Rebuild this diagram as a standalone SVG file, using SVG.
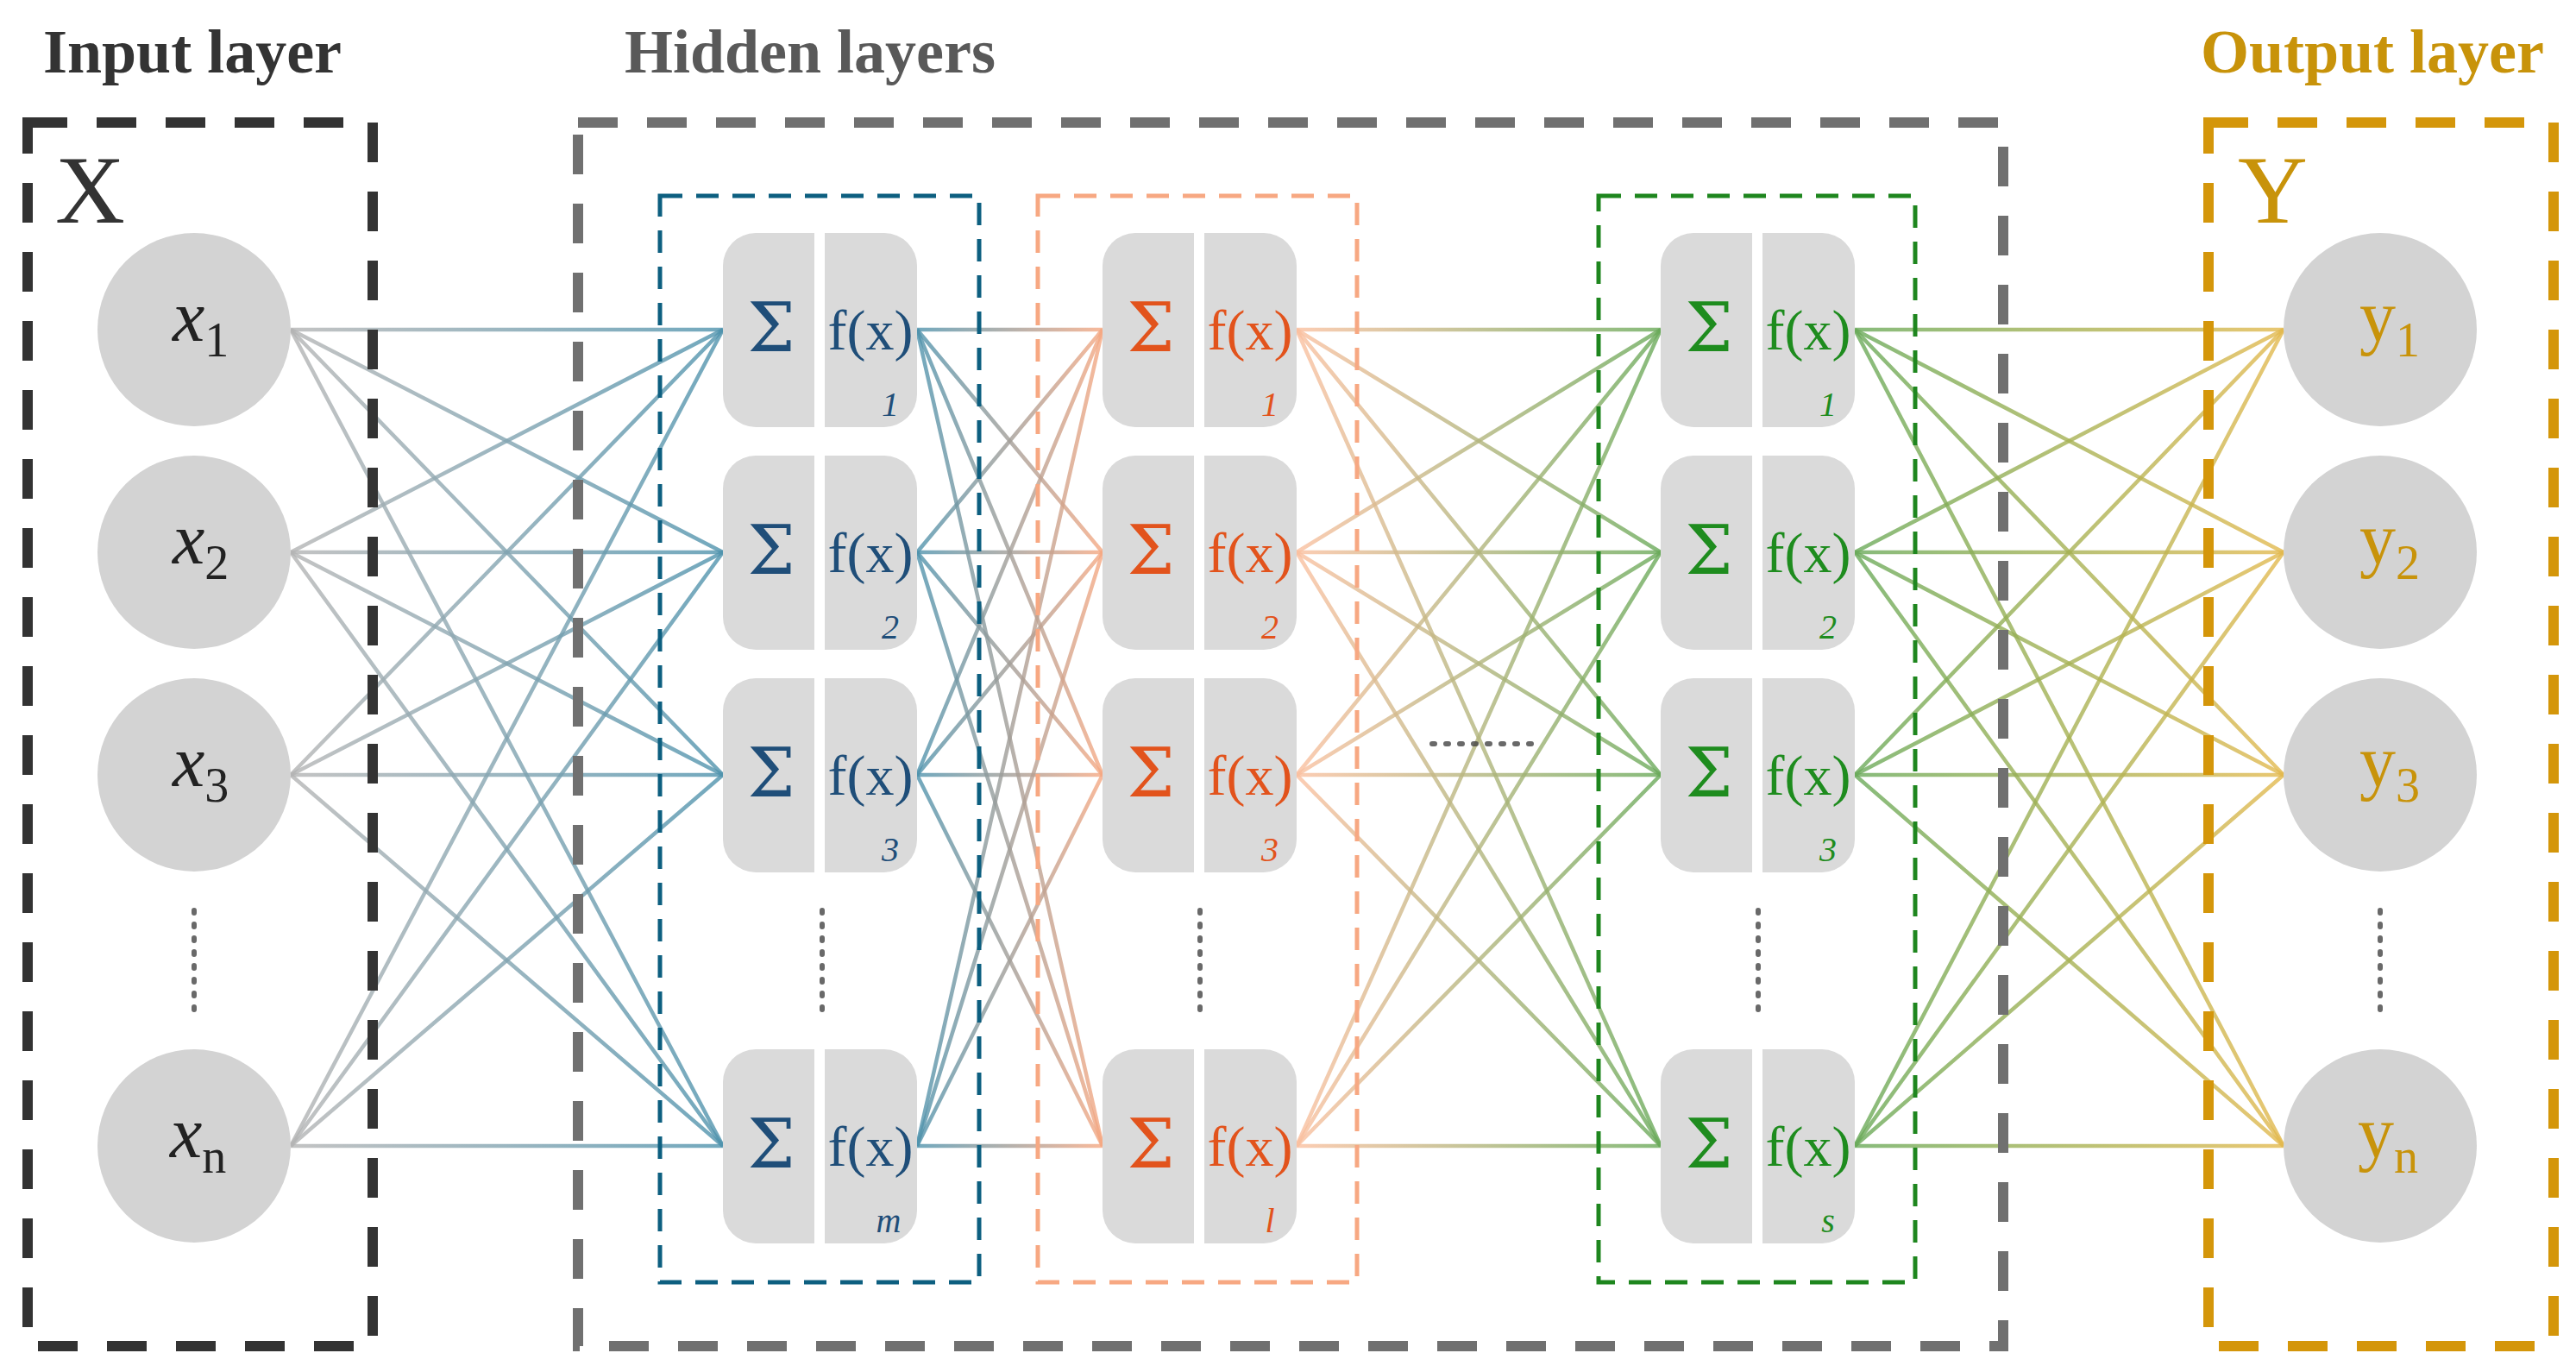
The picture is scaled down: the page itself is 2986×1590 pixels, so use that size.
<svg xmlns="http://www.w3.org/2000/svg" width="2986" height="1590" viewBox="0 0 2986 1590">
<style>
.title{font-family:"Liberation Serif",serif;font-weight:bold;font-size:72px}
.big{font-family:"Liberation Serif",serif;font-size:112px}
.circ{fill:#d3d3d3}
.box{fill:#dadada}
.sig{font-family:"DejaVu Serif",serif;font-size:78px;text-anchor:middle}
.fx{font-family:"Liberation Serif",serif;font-size:66px;text-anchor:middle}
.num{font-family:"Liberation Serif",serif;font-style:italic;font-size:40px;text-anchor:middle}
.xl{font-family:"Liberation Serif",serif;font-style:italic;font-size:84px}
.yl{font-family:"Liberation Serif",serif;font-size:84px;fill:#c8930a}
.dots{stroke-width:6;stroke-dasharray:3 13;stroke-linecap:round;fill:none}
line{stroke-width:4.5;stroke-opacity:0.8}
</style>
<defs>
<linearGradient id="gA" gradientUnits="userSpaceOnUse" x1="337" y1="0" x2="838" y2="0"><stop offset="0" stop-color="#b4b4b4"/><stop offset="1" stop-color="#4f93ad"/></linearGradient>
<linearGradient id="gB" gradientUnits="userSpaceOnUse" x1="1063" y1="0" x2="1278" y2="0"><stop offset="0" stop-color="#4f93ad"/><stop offset="1" stop-color="#f6a882"/></linearGradient>
<linearGradient id="gC" gradientUnits="userSpaceOnUse" x1="1503" y1="0" x2="1925" y2="0"><stop offset="0" stop-color="#fbc0a0"/><stop offset="1" stop-color="#6aaa5a"/></linearGradient>
<linearGradient id="gD" gradientUnits="userSpaceOnUse" x1="2150" y1="0" x2="2647" y2="0"><stop offset="0" stop-color="#6aaa5a"/><stop offset="1" stop-color="#e3b94e"/></linearGradient>
</defs>
<rect width="2986" height="1590" fill="#fff"/>

<g id="connectors">
<g stroke="url(#gA)">
<line x1="337" y1="382" x2="838" y2="382"/><line x1="337" y1="382" x2="838" y2="640"/><line x1="337" y1="382" x2="838" y2="898"/><line x1="337" y1="382" x2="838" y2="1328"/>
<line x1="337" y1="640" x2="838" y2="382"/><line x1="337" y1="640" x2="838" y2="640"/><line x1="337" y1="640" x2="838" y2="898"/><line x1="337" y1="640" x2="838" y2="1328"/>
<line x1="337" y1="898" x2="838" y2="382"/><line x1="337" y1="898" x2="838" y2="640"/><line x1="337" y1="898" x2="838" y2="898"/><line x1="337" y1="898" x2="838" y2="1328"/>
<line x1="337" y1="1328" x2="838" y2="382"/><line x1="337" y1="1328" x2="838" y2="640"/><line x1="337" y1="1328" x2="838" y2="898"/><line x1="337" y1="1328" x2="838" y2="1328"/>
</g>
<g stroke="url(#gB)">
<line x1="1063" y1="382" x2="1278" y2="382"/><line x1="1063" y1="382" x2="1278" y2="640"/><line x1="1063" y1="382" x2="1278" y2="898"/><line x1="1063" y1="382" x2="1278" y2="1328"/>
<line x1="1063" y1="640" x2="1278" y2="382"/><line x1="1063" y1="640" x2="1278" y2="640"/><line x1="1063" y1="640" x2="1278" y2="898"/><line x1="1063" y1="640" x2="1278" y2="1328"/>
<line x1="1063" y1="898" x2="1278" y2="382"/><line x1="1063" y1="898" x2="1278" y2="640"/><line x1="1063" y1="898" x2="1278" y2="898"/><line x1="1063" y1="898" x2="1278" y2="1328"/>
<line x1="1063" y1="1328" x2="1278" y2="382"/><line x1="1063" y1="1328" x2="1278" y2="640"/><line x1="1063" y1="1328" x2="1278" y2="898"/><line x1="1063" y1="1328" x2="1278" y2="1328"/>
</g>
<g stroke="url(#gC)">
<line x1="1503" y1="382" x2="1925" y2="382"/><line x1="1503" y1="382" x2="1925" y2="640"/><line x1="1503" y1="382" x2="1925" y2="898"/><line x1="1503" y1="382" x2="1925" y2="1328"/>
<line x1="1503" y1="640" x2="1925" y2="382"/><line x1="1503" y1="640" x2="1925" y2="640"/><line x1="1503" y1="640" x2="1925" y2="898"/><line x1="1503" y1="640" x2="1925" y2="1328"/>
<line x1="1503" y1="898" x2="1925" y2="382"/><line x1="1503" y1="898" x2="1925" y2="640"/><line x1="1503" y1="898" x2="1925" y2="898"/><line x1="1503" y1="898" x2="1925" y2="1328"/>
<line x1="1503" y1="1328" x2="1925" y2="382"/><line x1="1503" y1="1328" x2="1925" y2="640"/><line x1="1503" y1="1328" x2="1925" y2="898"/><line x1="1503" y1="1328" x2="1925" y2="1328"/>
</g>
<g stroke="url(#gD)">
<line x1="2150" y1="382" x2="2647" y2="382"/><line x1="2150" y1="382" x2="2647" y2="640"/><line x1="2150" y1="382" x2="2647" y2="898"/><line x1="2150" y1="382" x2="2647" y2="1328"/>
<line x1="2150" y1="640" x2="2647" y2="382"/><line x1="2150" y1="640" x2="2647" y2="640"/><line x1="2150" y1="640" x2="2647" y2="898"/><line x1="2150" y1="640" x2="2647" y2="1328"/>
<line x1="2150" y1="898" x2="2647" y2="382"/><line x1="2150" y1="898" x2="2647" y2="640"/><line x1="2150" y1="898" x2="2647" y2="898"/><line x1="2150" y1="898" x2="2647" y2="1328"/>
<line x1="2150" y1="1328" x2="2647" y2="382"/><line x1="2150" y1="1328" x2="2647" y2="640"/><line x1="2150" y1="1328" x2="2647" y2="898"/><line x1="2150" y1="1328" x2="2647" y2="1328"/>
</g>
</g>

<g id="frames" fill="none">
<rect x="32" y="142" width="400" height="1418" stroke="#333" stroke-width="12" stroke-dasharray="46 34"/>
<rect x="670" y="142" width="1652" height="1418" stroke="#707070" stroke-width="12" stroke-dasharray="46 34"/>
<rect x="2560" y="142" width="400" height="1418" stroke="#d4960a" stroke-width="12" stroke-dasharray="46 34"/>
<rect x="765" y="227" width="370" height="1259" stroke="#0d5f80" stroke-width="5" stroke-dasharray="26 16"/>
<rect x="1203" y="227" width="370" height="1259" stroke="#f7a882" stroke-width="5" stroke-dasharray="26 16"/>
<rect x="1853" y="227" width="367" height="1259" stroke="#1e861e" stroke-width="5" stroke-dasharray="26 16"/>
</g>

<g id="titles">
<text class="title" x="50" y="84" fill="#333">Input layer</text>
<text class="title" x="724" y="84" fill="#595959">Hidden layers</text>
<text class="title" x="2551" y="84" fill="#c8930a">Output layer</text>
<text class="big" x="64" y="258" fill="#333">X</text>
<text class="big" x="2594" y="258" fill="#c8930a">Y</text>
</g>

<g id="input-nodes">
<g id="x1"><circle class="circ" cx="225" cy="382" r="112"/><text class="xl" x="200" y="395" fill="#222">x<tspan font-style="normal" font-size="56" dy="18">1</tspan></text></g>
<g id="x2"><circle class="circ" cx="225" cy="640" r="112"/><text class="xl" x="200" y="653" fill="#222">x<tspan font-style="normal" font-size="56" dy="18">2</tspan></text></g>
<g id="x3"><circle class="circ" cx="225" cy="898" r="112"/><text class="xl" x="200" y="911" fill="#222">x<tspan font-style="normal" font-size="56" dy="18">3</tspan></text></g>
<g id="xn"><circle class="circ" cx="225" cy="1328" r="112"/><text class="xl" x="197" y="1341" fill="#222">x<tspan font-style="normal" font-size="56" dy="18">n</tspan></text></g>
<line class="dots" x1="225" y1="1055" x2="225" y2="1175" stroke="#444"/>
</g>

<g id="h1" fill="#1f4e79">
<g id="h1-1"><rect class="box" x="838" y="270" width="225" height="225" rx="38"/><rect x="944" y="268" width="12" height="229" fill="#fff"/><text class="sig" x="894" y="407">Σ</text><text class="fx" x="1009" y="405">f(x)</text><text class="num" x="1032" y="482">1</text></g>
<g id="h1-2"><rect class="box" x="838" y="528" width="225" height="225" rx="38"/><rect x="944" y="526" width="12" height="229" fill="#fff"/><text class="sig" x="894" y="665">Σ</text><text class="fx" x="1009" y="663">f(x)</text><text class="num" x="1032" y="740">2</text></g>
<g id="h1-3"><rect class="box" x="838" y="786" width="225" height="225" rx="38"/><rect x="944" y="784" width="12" height="229" fill="#fff"/><text class="sig" x="894" y="923">Σ</text><text class="fx" x="1009" y="921">f(x)</text><text class="num" x="1032" y="998">3</text></g>
<g id="h1-m"><rect class="box" x="838" y="1216" width="225" height="225" rx="38"/><rect x="944" y="1214" width="12" height="229" fill="#fff"/><text class="sig" x="894" y="1353">Σ</text><text class="fx" x="1009" y="1351">f(x)</text><text class="num" x="1030" y="1428">m</text></g>
<line class="dots" x1="953" y1="1055" x2="953" y2="1175" stroke="#444"/>
</g>

<g id="h2" fill="#e2531c">
<g id="h2-1"><rect class="box" x="1278" y="270" width="225" height="225" rx="38"/><rect x="1384" y="268" width="12" height="229" fill="#fff"/><text class="sig" x="1334" y="407">Σ</text><text class="fx" x="1449" y="405">f(x)</text><text class="num" x="1472" y="482">1</text></g>
<g id="h2-2"><rect class="box" x="1278" y="528" width="225" height="225" rx="38"/><rect x="1384" y="526" width="12" height="229" fill="#fff"/><text class="sig" x="1334" y="665">Σ</text><text class="fx" x="1449" y="663">f(x)</text><text class="num" x="1472" y="740">2</text></g>
<g id="h2-3"><rect class="box" x="1278" y="786" width="225" height="225" rx="38"/><rect x="1384" y="784" width="12" height="229" fill="#fff"/><text class="sig" x="1334" y="923">Σ</text><text class="fx" x="1449" y="921">f(x)</text><text class="num" x="1472" y="998">3</text></g>
<g id="h2-l"><rect class="box" x="1278" y="1216" width="225" height="225" rx="38"/><rect x="1384" y="1214" width="12" height="229" fill="#fff"/><text class="sig" x="1334" y="1353">Σ</text><text class="fx" x="1449" y="1351">f(x)</text><text class="num" x="1472" y="1428">l</text></g>
<line class="dots" x1="1391" y1="1055" x2="1391" y2="1175" stroke="#444"/>
</g>

<line class="dots" x1="1660" y1="862" x2="1780" y2="862" stroke="#444"/>

<g id="h3" fill="#1e8c1e">
<g id="h3-1"><rect class="box" x="1925" y="270" width="225" height="225" rx="38"/><rect x="2031" y="268" width="12" height="229" fill="#fff"/><text class="sig" x="1981" y="407">Σ</text><text class="fx" x="2096" y="405">f(x)</text><text class="num" x="2119" y="482">1</text></g>
<g id="h3-2"><rect class="box" x="1925" y="528" width="225" height="225" rx="38"/><rect x="2031" y="526" width="12" height="229" fill="#fff"/><text class="sig" x="1981" y="665">Σ</text><text class="fx" x="2096" y="663">f(x)</text><text class="num" x="2119" y="740">2</text></g>
<g id="h3-3"><rect class="box" x="1925" y="786" width="225" height="225" rx="38"/><rect x="2031" y="784" width="12" height="229" fill="#fff"/><text class="sig" x="1981" y="923">Σ</text><text class="fx" x="2096" y="921">f(x)</text><text class="num" x="2119" y="998">3</text></g>
<g id="h3-s"><rect class="box" x="1925" y="1216" width="225" height="225" rx="38"/><rect x="2031" y="1214" width="12" height="229" fill="#fff"/><text class="sig" x="1981" y="1353">Σ</text><text class="fx" x="2096" y="1351">f(x)</text><text class="num" x="2119" y="1428">s</text></g>
<line class="dots" x1="2038" y1="1055" x2="2038" y2="1175" stroke="#444"/>
</g>

<g id="output-nodes">
<g id="y1"><circle class="circ" cx="2759" cy="382" r="112"/><text class="yl" x="2735" y="395">y<tspan font-size="56" dy="18">1</tspan></text></g>
<g id="y2"><circle class="circ" cx="2759" cy="640" r="112"/><text class="yl" x="2735" y="653">y<tspan font-size="56" dy="18">2</tspan></text></g>
<g id="y3"><circle class="circ" cx="2759" cy="898" r="112"/><text class="yl" x="2735" y="911">y<tspan font-size="56" dy="18">3</tspan></text></g>
<g id="yn"><circle class="circ" cx="2759" cy="1328" r="112"/><text class="yl" x="2733" y="1341">y<tspan font-size="56" dy="18">n</tspan></text></g>
<line class="dots" x1="2759" y1="1055" x2="2759" y2="1175" stroke="#444"/>
</g>
</svg>
